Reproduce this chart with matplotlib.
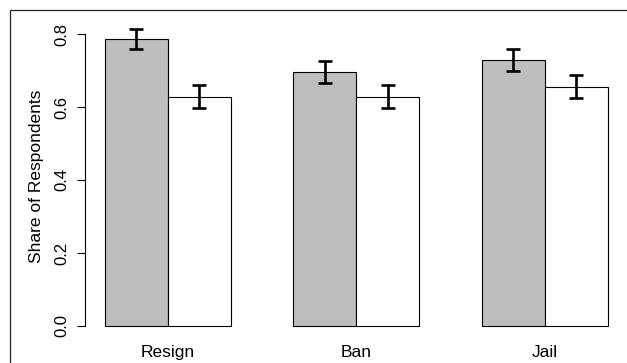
import matplotlib
matplotlib.use("Agg")
import matplotlib.pyplot as plt
from matplotlib.patches import Rectangle
import numpy as np

plt.rcParams['font.family'] = ['Liberation Sans', 'DejaVu Sans']

# data
categories = ["Resign", "Ban", "Jail"]
gray_vals = [0.786, 0.695, 0.728]
gray_lo = [0.759, 0.666, 0.699]
gray_hi = [0.814, 0.726, 0.758]
white_vals = [0.628, 0.628, 0.656]
white_lo = [0.596, 0.596, 0.624]
white_hi = [0.659, 0.660, 0.688]
yticks = [0.0, 0.2, 0.4, 0.6, 0.8]

W, H = 627, 363
fig = plt.figure(figsize=(W / 100, H / 100), dpi=100)

# outer frame (runs off the right and bottom of the image)
fig.patches.append(Rectangle((10 / W, -0.2), 1.2, (H - 10) / H + 0.2,
                             transform=fig.transFigure, fill=False,
                             edgecolor='#222222', linewidth=0.9))

ax = fig.add_axes([85 / W, (H - 338) / H, 542.6 / W, 323.3 / H])

# R-style barplot positions: bar width 1, one unit gap between groups
left_gray = np.array([1, 4, 7])
left_white = left_gray + 1
mid_gray = left_gray + 0.5
mid_white = left_white + 0.5

ax.bar(left_gray, gray_vals, width=1, align='edge', color='#bebebe',
       edgecolor='black', linewidth=0.8)
ax.bar(left_white, white_vals, width=1, align='edge', color='white',
       edgecolor='black', linewidth=0.8)

g = np.array(gray_vals)
w = np.array(white_vals)
ax.errorbar(mid_gray, g, yerr=[g - np.array(gray_lo), np.array(gray_hi) - g],
            fmt='none', ecolor='black', elinewidth=1.9, capsize=5, capthick=1.9)
ax.errorbar(mid_white, w, yerr=[w - np.array(white_lo), np.array(white_hi) - w],
            fmt='none', ecolor='black', elinewidth=1.9, capsize=5, capthick=1.9)

ax.set_xlim(0.68, 9.32)
ax.set_ylim(-0.033, 0.853)

for s in ['top', 'right', 'bottom']:
    ax.spines[s].set_visible(False)
ax.spines['left'].set_bounds(0, 0.8)
ax.spines['left'].set_linewidth(0.8)

ax.set_yticks(yticks)
ax.set_yticklabels([f"{t:.1f}" for t in yticks], rotation=90, va='center',
                   fontsize=12)
ax.tick_params(axis='y', length=6, width=0.8, pad=5)

ax.set_xticks(left_white)
ax.set_xticklabels(categories, fontsize=12.5)
ax.tick_params(axis='x', length=0, pad=5)

ax.set_ylabel("Share of Respondents", fontsize=12.5, labelpad=8)

fig.savefig("out.png", dpi=100)
